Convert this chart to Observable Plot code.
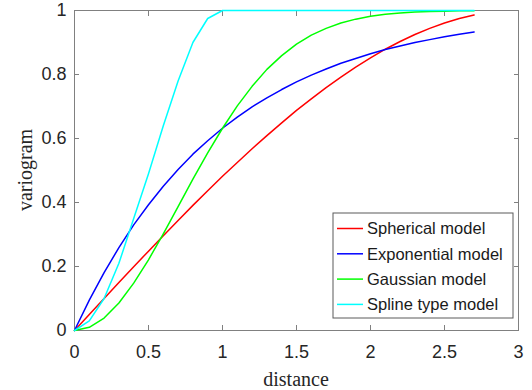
<!DOCTYPE html>
<html>
<head>
<meta charset="utf-8">
<script src="https://cdn.jsdelivr.net/npm/d3@7"></script>
<script src="https://cdn.jsdelivr.net/npm/@observablehq/plot@0.6"></script>
<style>
  body { margin: 0; background: #fff; }
</style>
</head>
<body>
<div id="chart"></div>
<script>
// ---- data ----
const distance = [0, 0.1, 0.2, 0.3, 0.4, 0.5, 0.6, 0.7, 0.8, 0.9, 1.0, 1.1, 1.2, 1.3, 1.4,
                  1.5, 1.6, 1.7, 1.8, 1.9, 2.0, 2.1, 2.2, 2.3, 2.4, 2.5, 2.6, 2.7];
const spherical = [0, 0.050, 0.100, 0.150, 0.199, 0.248, 0.296, 0.344, 0.391, 0.437, 0.482,
                   0.525, 0.568, 0.609, 0.649, 0.688, 0.724, 0.759, 0.792, 0.823, 0.852,
                   0.879, 0.903, 0.925, 0.944, 0.961, 0.975, 0.986];
const exponential = [0, 0.095, 0.181, 0.259, 0.330, 0.393, 0.451, 0.503, 0.551, 0.593, 0.632,
                     0.667, 0.699, 0.727, 0.753, 0.777, 0.798, 0.817, 0.835, 0.850, 0.865,
                     0.878, 0.889, 0.900, 0.909, 0.918, 0.926, 0.933];
const gaussian = [0, 0.010, 0.039, 0.086, 0.148, 0.221, 0.302, 0.387, 0.473, 0.555, 0.632,
                  0.702, 0.763, 0.816, 0.859, 0.895, 0.923, 0.944, 0.961, 0.973, 0.982,
                  0.988, 0.992, 0.995, 0.997, 0.998, 0.999, 0.999];
const spline = [0, 0.030, 0.100, 0.210, 0.350, 0.490, 0.640, 0.780, 0.900, 0.975, 1,
                1, 1, 1, 1, 1, 1, 1, 1, 1, 1, 1, 1, 1, 1, 1, 1, 1];
const seriesNames = ["Spherical model", "Exponential model", "Gaussian model", "Spline type model"];
const xTicks = [0, 0.5, 1, 1.5, 2, 2.5, 3];
const yTicks = [0, 0.2, 0.4, 0.6, 0.8, 1];
const xLabel = "distance";
const yLabel = "variogram";

// ---- build table ----
const seriesValues = [spherical, exponential, gaussian, spline];
const rows = [];
seriesNames.forEach((name, s) => {
  distance.forEach((d, i) => rows.push({series: name, x: d, y: seriesValues[s][i]}));
});

const colors = ["#ff0000", "#0000ff", "#00ff00", "#00ffff"];
const fmt = d => String(d);
const blank = () => "";

const chart = Plot.plot({
  width: 532,
  height: 390,
  marginLeft: 74,
  marginRight: 14,
  marginTop: 10,
  marginBottom: 60,
  style: {fontFamily: "'Liberation Sans', Arial, sans-serif", fontSize: "18px", color: "#262626", background: "#fff"},
  x: {domain: [0, 3]},
  y: {domain: [0, 1]},
  color: {domain: seriesNames, range: colors},
  marks: [
    Plot.frame({stroke: "#808080", strokeWidth: 1}),
    Plot.axisX({ticks: xTicks, tickSize: 0, tickPadding: 15, tickFormat: fmt, label: null, fill: "#262626"}),
    Plot.axisX({ticks: xTicks, tickSize: -5, tickFormat: blank, label: null, stroke: "#808080"}),
    Plot.axisX({anchor: "top", ticks: xTicks, tickSize: -5, tickFormat: blank, label: null, stroke: "#808080"}),
    Plot.axisY({ticks: yTicks, tickSize: 0, tickPadding: 8, tickFormat: fmt, label: null, fill: "#262626"}),
    Plot.axisY({ticks: yTicks, tickSize: -5, tickFormat: blank, label: null, stroke: "#808080"}),
    Plot.axisY({anchor: "right", ticks: yTicks, tickSize: -5, tickFormat: blank, label: null, stroke: "#808080"}),
    Plot.line(rows, {x: "x", y: "y", z: "series", stroke: "series", strokeWidth: 1.5})
  ]
});
document.getElementById("chart").appendChild(chart);

// ---- axis titles and legend ----
const svg = d3.select(chart);
svg.append("text")
  .attr("x", 296).attr("y", 386)
  .attr("text-anchor", "middle")
  .style("font-family", "'Liberation Serif', 'Times New Roman', serif")
  .style("font-size", "20px")
  .attr("fill", "#262626")
  .text(xLabel);
svg.append("text")
  .attr("transform", "translate(32,170) rotate(-90)")
  .attr("text-anchor", "middle")
  .style("font-family", "'Liberation Serif', 'Times New Roman', serif")
  .style("font-size", "20px")
  .attr("fill", "#262626")
  .text(yLabel);

const lg = svg.append("g");
lg.append("rect")
  .attr("x", 333).attr("y", 213).attr("width", 180).attr("height", 105)
  .attr("fill", "#fff").attr("stroke", "#5a5a5a").attr("stroke-width", 1);
seriesNames.forEach((name, i) => {
  const cy = 228.5 + i * 25.3;
  lg.append("line")
    .attr("x1", 337).attr("x2", 363).attr("y1", cy).attr("y2", cy)
    .attr("stroke", colors[i]).attr("stroke-width", 1.5);
  lg.append("text")
    .attr("x", 367).attr("y", cy).attr("dy", "0.35em")
    .attr("text-anchor", "start")
    .style("font-family", "'Liberation Sans', Arial, sans-serif")
    .style("font-size", "16.5px")
    .attr("fill", "#1a1a1a")
    .text(name);
});
</script>
</body>
</html>
